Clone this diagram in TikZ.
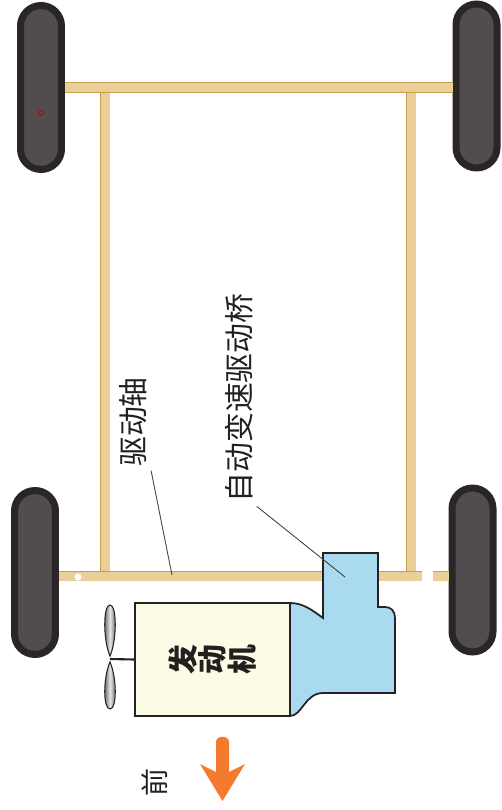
\documentclass[tikz,border=0pt]{standalone}
\usepackage{fontspec}
\usepackage{xcolor}
\newfontfamily\cjk{Noto Sans CJK SC}
\definecolor{tyre}{HTML}{2A2526}
\definecolor{tread}{HTML}{524C4F}
\definecolor{rail}{HTML}{EBCF98}
\definecolor{railedge}{HTML}{C99E55}
\definecolor{cream}{HTML}{FCFCE6}
\definecolor{gearblue}{HTML}{A9DAEF}
\definecolor{outline}{HTML}{262223}
\definecolor{ink}{HTML}{231F20}
\definecolor{fwd}{HTML}{F47A30}

\begin{document}
\begin{tikzpicture}[x=0.02cm, y=-0.02cm,
    wheel/.style = {rectangle, draw=tyre, fill=tread, line width=0.14cm, rounded corners=0.41cm, minimum width=0.82cm, minimum height=3.28cm, inner sep=0pt},
    bar/.style = {draw=railedge, line width=0.4pt, double=rail, double distance=0.18cm},
    block/.style = {rectangle, draw=outline, line width=1pt, fill=cream, minimum width=3.1cm, minimum height=2.26cm, inner sep=0pt},
    gearbox/.style = {draw=outline, line width=1pt, fill=gearblue},
    blade/.style = {draw=outline, line width=0.6pt, left color=black!70, right color=black!70, middle color=black!10},
    tx/.style = {font=\cjk\fontsize{17}{17}\selectfont, text=ink, rotate=90, align=center, inner sep=2pt},
    lead/.style = {draw=ink!85, line width=0.5pt}]
  \useasboundingbox (0, 0) rectangle (501, 810);

  \draw[bar] (105, 92) -- (105, 572);
  \draw[bar] (411, 92) -- (411, 572);

  \draw (41, 87.5) node[wheel] (wRL) {};
  \draw (476.5, 86) node[wheel] (wRR) {};
  \draw (35, 572.5) node[wheel] (wFL) {};
  \draw (472.5, 570) node[wheel] (wFR) {};
  \draw[red!75!black, line width=0.5pt] (41, 113) circle (1.4pt);

  \coordinate (gapL) at (422, 576);
  \coordinate (gapR) at (433, 576);
  \draw[bar] (wRL.east) -- (wRL.east -| wRR.west);
  \draw[bar] (wFL.east |- gapL) -- (gapL);
  \draw[bar] (gapR) -- (gapR -| wFR.west);
  \fill[white] (78, 577) circle (2pt);

  \draw[gearbox] (290, 603) .. controls (303, 603) and (312, 610) .. (323, 618) -- (323, 553) -- (378, 553) -- (378, 607) -- (385, 607) .. controls (391, 607) and (395, 611) .. (395, 618) -- (395, 693) -- (323, 693) .. controls (305, 693) and (302, 716) .. (290, 716) -- cycle;
  \draw (212.5, 659.5) node[block] (eng) {};
  \draw (eng.center) node[tx, font=\cjk\bfseries\fontsize{17}{17}\selectfont] (engtx) {发\\动\\机};

  \coordinate (fan) at (110, 659);
  \draw[outline, line width=1.2pt] (fan) -- (eng.west);
  \draw[blade] (110, 656) .. controls (103, 640) and (103, 605) .. (110, 605) .. controls (117, 605) and (117, 640) .. (110, 656) -- cycle;
  \draw[blade] (110, 662) .. controls (103, 678) and (103, 709) .. (110, 709) .. controls (117, 709) and (117, 678) .. (110, 662) -- cycle;

  \draw (133.5, 422) node[tx] (axtx) {驱动轴};
  \draw (239, 398) node[tx] (gbtx) {自动变速驱动桥};
  \coordinate (axpt) at (172, 575);
  \coordinate (gbpt) at (345, 577);
  \draw[lead] (axtx.south west) -- (axpt);
  \draw[lead] (gbtx.south west) -- (gbpt);

  \draw (155, 782) node[tx, font=\cjk\fontsize{16}{16}\selectfont] (front) {前};
  \fill[fwd] (216, 772) -- (216, 742) .. controls (216, 735) and (229, 735) .. (229, 742) -- (229, 772) -- (245, 764) -- (222.5, 801) -- (200, 764) -- cycle;
\end{tikzpicture}
\end{document}
